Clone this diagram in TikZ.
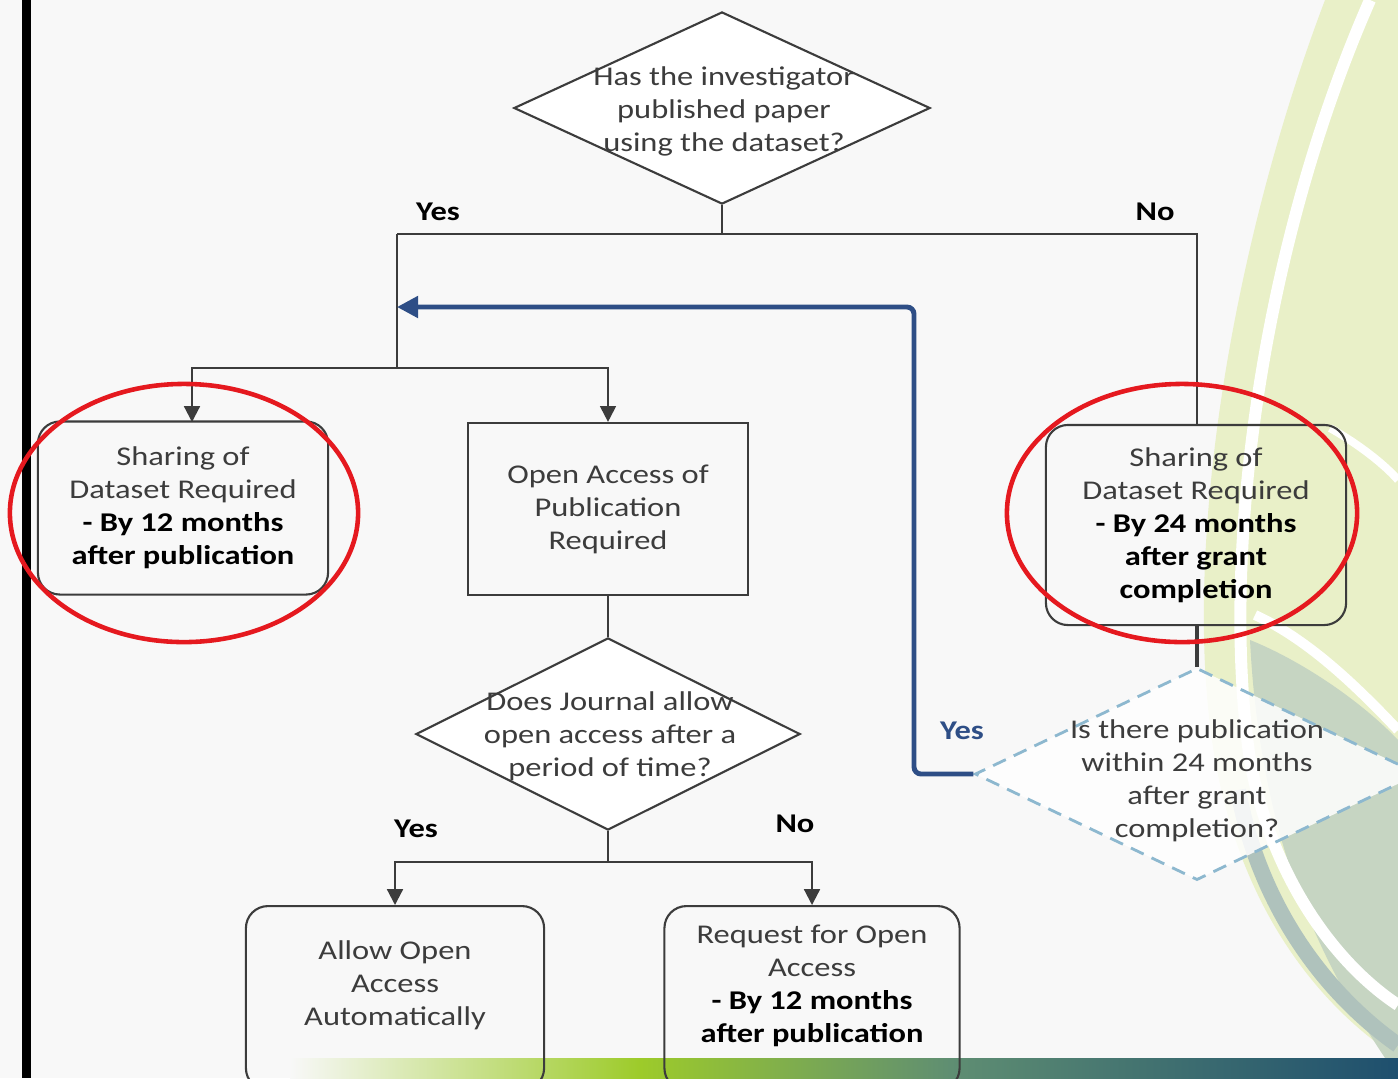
\documentclass[tikz,border=0pt]{standalone}
\usepackage{fontspec}
\setmainfont{Carlito}[FakeStretch=1.2]
\usepackage{tikz}
\usetikzlibrary{arrows.meta, shapes.geometric}
\definecolor{slidebg}{HTML}{F8F8F8}
\definecolor{inkgray}{HTML}{3C3C3C}
\definecolor{loopblue}{HTML}{2E4E86}
\definecolor{dashblue}{HTML}{8DB8CF}
\definecolor{ringred}{HTML}{E5191F}
\definecolor{leafpale}{HTML}{E9F0C8}
\definecolor{sage}{HTML}{C6D5C2}
\definecolor{sagedark}{HTML}{AFC2BC}
\definecolor{barlime}{HTML}{9DCB2A}
\definecolor{barsage}{HTML}{5F8E72}
\definecolor{barnavy}{HTML}{1E4F6E}

\begin{document}
\begin{tikzpicture}[x=0.01cm, y=-0.01cm, font=\fontsize{7.7}{9.4}\selectfont,
  link/.style={draw=inkgray, line width=0.6pt},
  tip/.style={-{Triangle[length=4.5pt, width=4.5pt]}},
  box/.style={draw=inkgray, line width=0.6pt, rounded corners=0.22cm, align=center,
              text=inkgray, inner sep=0pt},
  ask/.style={diamond, draw=inkgray, fill=white, line width=0.6pt, inner sep=0pt},
  asktext/.style={align=center, text=inkgray, inner sep=0pt},
  tag/.style={font=\fontsize{7.7}{9.4}\selectfont\bfseries, text=black, inner sep=0pt},
  ring/.style={draw=ringred, line width=1.3pt}]
  \useasboundingbox (0,0) rectangle (1398,1078);
  \clip (0,0) rectangle (1398,1078);
  % --- slide background ---
  \fill[slidebg] (0,0) rectangle (1398,1078);
  \fill[leafpale] (1325,0) .. controls (1230,250) and (1180,560) .. (1215,760)
    .. controls (1240,900) and (1310,1000) .. (1398,1058) -- (1398,0) -- cycle;
  \fill[sage] (1250,640) .. controls (1300,660) and (1360,700) .. (1398,740) -- (1398,1058)
    -- (1385,1058) .. controls (1320,960) and (1260,840) .. (1250,640) -- cycle;
  \draw[sagedark, line width=0.16cm] (1238,790) .. controls (1258,900) and (1320,990) .. (1398,1045);
  \draw[white, line width=0.12cm] (1370,0) .. controls (1260,250) and (1220,560) .. (1250,760)
    .. controls (1270,870) and (1330,960) .. (1398,1005);
  \draw[white, line width=0.1cm] (1255,615) .. controls (1310,640) and (1360,690) .. (1398,730);
  \draw[white, line width=0.08cm] (1330,428) .. controls (1360,445) and (1385,465) .. (1398,480);
  \fill[black] (22,0) rectangle (31,1078);
  \foreach \xa/\xb/\ca/\cb in {290/640/slidebg/barlime, 640/950/barlime/barsage, 950/1398/barsage/barnavy}{
    \shade[left color=\ca, right color=\cb] (\xa,1058) rectangle (\xb,1078);
  }

  % --- decisions ---
  \node[ask, minimum width=4.16cm, minimum height=1.92cm] (qpub) at (722,108) {};
  \node[asktext] (qpub-t) at (724,111) {Has the investigator\\published paper\\using the dataset?};
  \node[ask, minimum width=3.84cm, minimum height=1.92cm] (qjour) at (608,734) {};
  \node[asktext] (qjour-t) at (610,736) {Does Journal allow\\open access after a\\period of time?};
  \node[ask, draw=dashblue, line width=0.8pt, dash pattern=on 4pt off 2.5pt, fill opacity=0.85,
        text opacity=1, minimum width=4.44cm, minimum height=2.12cm] (q24) at (1197,774) {};
  \node[asktext] (q24-t) at (1197,781) {Is there publication\\within 24 months\\after grant\\completion?};

  % --- outcomes ---
  \node[box, minimum width=2.9cm, minimum height=1.73cm] (share12) at (183,508)
    {Sharing of\\Dataset Required\\\textbf{\color{black}- By 12 months}\\\textbf{\color{black}after publication}};
  \node[box, rounded corners=0pt, minimum width=2.8cm, minimum height=1.72cm] (openpub) at (608,509)
    {Open Access of\\Publication\\Required};
  \node[box, minimum width=3.0cm, minimum height=2.0cm] (share24) at (1196,525)
    {Sharing of\\Dataset Required\\\textbf{\color{black}- By 24 months}\\\textbf{\color{black}after grant}\\\textbf{\color{black}completion}};
  \node[box, anchor=north, minimum width=2.98cm, minimum height=1.84cm] (allow) at (395,905) {};
  \node[asktext] (allow-t) at (395,985) {Allow Open\\Access\\Automatically};
  \node[box, anchor=north, minimum width=2.95cm, minimum height=1.84cm] (request) at (812,905) {};
  \node[asktext] (request-t) at (812,986)
    {Request for Open\\Access\\\textbf{\color{black}- By 12 months}\\\textbf{\color{black}after publication}};

  % --- branch labels ---
  \foreach \nm/\px/\py/\lab in {yes1/438/212/Yes, no1/1155/212/No, yes2/416/829/Yes, no2/795/824/No}{
    \node[tag] (\nm) at (\px,\py) {\lab};
  }
  \node[tag, text=loopblue] (yes3) at (962,731) {Yes};

  % --- connectors ---
  \coordinate (forkA) at (397,234);
  \coordinate (forkB) at (1197,234);
  \coordinate (splitA) at (397,368);
  \coordinate (in12) at (192,422);
  \coordinate (splitB) at (608,862);
  \coordinate (bend) at (914,307);
  \coordinate (loopin) at (397,307);
  \draw[link] (qpub.south) -- (qpub.south |- forkA);
  \draw[link] (forkA) -- (forkB) -- (share24.north -| forkB);
  \draw[link] (forkA) -- (splitA);
  \draw[link, tip] (splitA) -| (in12);
  \draw[link, tip] (splitA) -| (openpub.north);
  \draw[link] (openpub.south) -- (qjour.north);
  \draw[link] (qjour.south) -- (splitB);
  \draw[link, tip] (splitB) -| (allow.north);
  \draw[link, tip] (splitB) -| (request.north);
  \draw[link, line width=1pt] (share24.south -| q24.north) -- (q24.north);
  \draw[loopblue, line width=1.4pt, rounded corners=2pt, -{Triangle[length=6pt, width=6pt]}]
    (q24.west) -| (bend) -- (loopin);

  % --- highlight rings ---
  \draw[ring] (184,513) ellipse [x radius=1.74cm, y radius=1.29cm];
  \draw[ring] (1182,513) ellipse [x radius=1.75cm, y radius=1.29cm];
\end{tikzpicture}
\end{document}
